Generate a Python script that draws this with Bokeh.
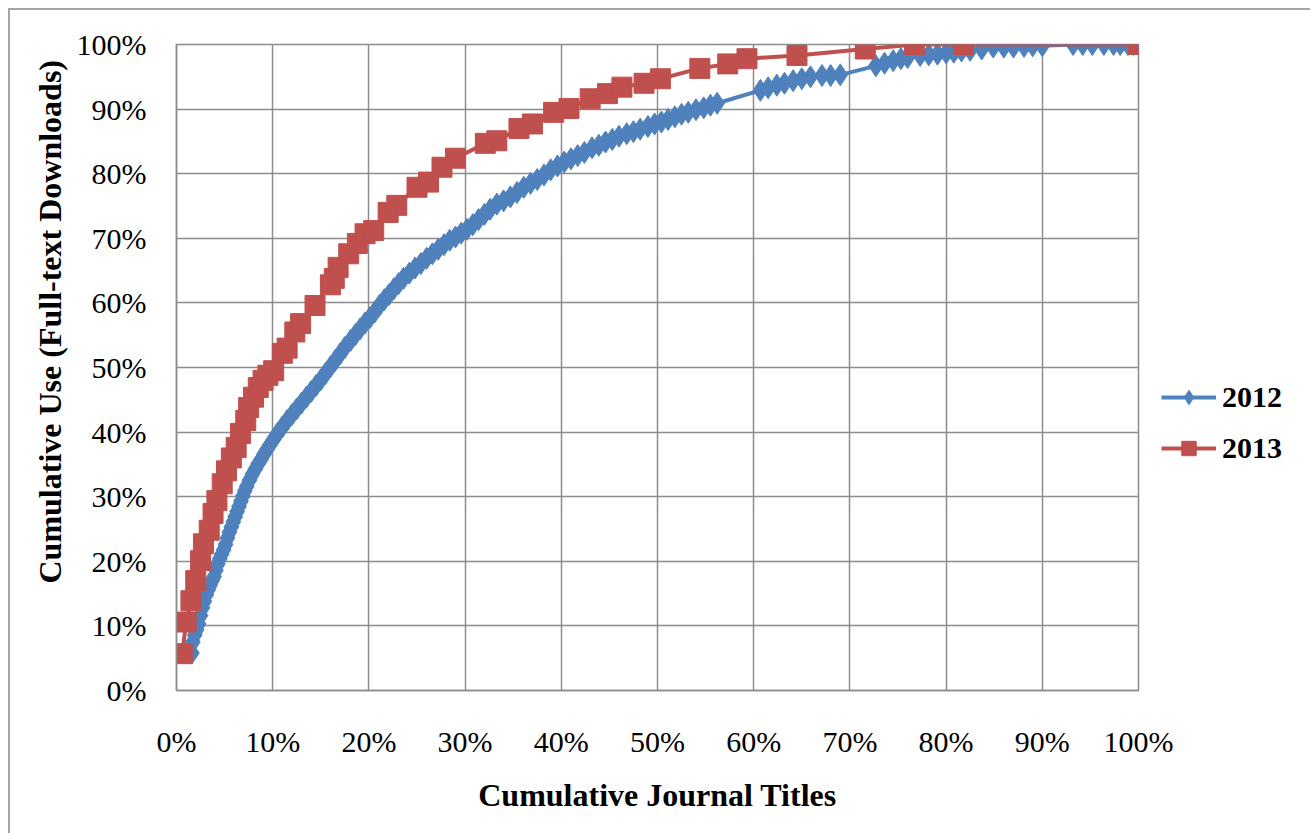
import math
from bokeh.plotting import figure
from bokeh.models import Title, Legend, LegendItem, FixedTicker
from bokeh.embed import file_html
from bokeh.resources import INLINE

# ---------------- data (percent) ----------------
x_2012 = [1.6, 1.7, 1.9, 2.1, 2.3, 2.5, 2.7, 2.9, 3.1, 3.3, 3.5, 3.7, 3.9, 4.1, 4.3, 4.5,
          4.7, 4.9, 5.1, 5.3, 5.5, 5.7, 5.9, 6.1, 6.3, 6.5, 6.7, 6.9, 7.1, 7.3, 7.6, 7.9,
          8.2, 8.5, 8.8, 9.1, 9.4, 9.7, 10.1, 10.5, 11.0, 11.5, 12.0, 12.5, 13.0, 13.5,
          14.0, 14.5, 15.0, 15.5, 16.0, 16.5, 17.0, 17.5, 18.1, 18.6, 19.1, 19.6, 20.1,
          20.6, 21.1, 21.6, 22.1, 22.6, 23.1, 23.6, 24.2, 24.8, 25.4, 26.0, 26.6, 27.2,
          27.8, 28.4, 29.0, 29.6, 30.2, 30.8, 31.4, 32.0, 32.6, 33.3, 34.0, 34.7, 35.4,
          36.1, 36.8, 37.5, 38.2, 38.9, 39.6, 40.3, 41.0, 41.7, 42.4, 43.2, 43.9, 44.6,
          45.3, 46.0, 46.8, 47.5, 48.2, 49.0, 49.7, 50.4, 51.1, 51.8, 52.5, 53.2, 54.0,
          54.8, 55.5, 56.2, 60.7, 61.5, 62.4, 63.2, 64.1, 65.0, 65.9, 67.1, 68.0, 69.0,
          72.7, 73.6, 74.5, 75.3, 76.0, 77.3, 78.2, 79.1, 80.0, 80.8, 81.6, 82.5, 83.7,
          84.9, 86.0, 87.0, 88.1, 89.0, 90.0, 93.2, 94.2, 95.2, 96.4, 97.4, 98.1, 98.9,
          99.5, 100.0]
y_2012 = [5.8, 7.5, 8.6, 9.4, 10.3, 11.6, 12.8, 13.8, 14.8, 15.6, 16.3, 17.0, 17.6, 18.6,
          19.6, 20.4, 21.1, 21.8, 22.6, 23.6, 24.5, 25.3, 26.1, 26.9, 27.7, 28.5, 29.3,
          30.1, 30.9, 31.6, 32.6, 33.5, 34.3, 35.1, 35.8, 36.6, 37.3, 38.0, 38.9, 39.8,
          40.8, 41.8, 42.7, 43.6, 44.5, 45.4, 46.3, 47.2, 48.1, 49.1, 50.1, 51.1, 52.1,
          53.1, 54.2, 55.1, 56.0, 56.9, 57.7, 58.6, 59.6, 60.5, 61.3, 62.2, 63.0, 63.8,
          64.6, 65.4, 66.1, 66.9, 67.6, 68.3, 69.0, 69.7, 70.2, 70.8, 71.4, 72.1, 72.9,
          73.7, 74.5, 75.3, 75.8, 76.4, 77.1, 77.9, 78.5, 79.1, 79.8, 80.6, 81.2, 81.8,
          82.3, 82.8, 83.3, 84.0, 84.4, 84.9, 85.3, 85.8, 86.2, 86.5, 86.9, 87.3, 87.7,
          88.0, 88.4, 88.8, 89.2, 89.5, 89.9, 90.2, 90.6, 90.9, 92.9, 93.3, 93.7, 94.0,
          94.4, 94.7, 95.0, 95.2, 95.2, 95.3, 96.7, 97.1, 97.5, 97.8, 98.0, 98.3, 98.4,
          98.5, 98.7, 98.8, 99.0, 99.1, 99.3, 99.6, 99.6, 99.6, 99.7, 99.8, 99.8, 100.0,
          100.0, 100.0, 100.0, 100.0, 100.0, 100.0, 100.0, 100.0]

x_2013 = [0.6, 1.0, 1.5, 2.0, 2.5, 2.8, 3.4, 3.8, 4.2, 4.75, 5.2, 5.7, 6.2, 6.65, 7.2,
          7.5, 8.0, 8.5, 9.0, 9.5, 10.1, 11.0, 11.5, 12.3, 12.9, 14.4, 16.0, 16.4, 16.8,
          17.9, 18.8, 19.6, 20.5, 22.0, 22.9, 25.0, 26.2, 27.6, 29.0, 32.1, 33.3, 35.6,
          37.0, 39.2, 40.8, 43.0, 44.8, 46.3, 48.6, 50.3, 54.4, 57.3, 59.3, 64.5, 71.6,
          76.7, 81.8, 100.0]
y_2013 = [5.7, 10.6, 13.9, 17.0, 20.1, 22.7, 24.8, 27.4, 29.4, 32.0, 34.0, 36.0, 37.6,
          39.8, 41.8, 43.8, 45.4, 46.9, 48.0, 48.8, 49.5, 52.2, 53.0, 55.5, 56.8, 59.6,
          62.8, 63.8, 65.5, 67.6, 69.2, 70.7, 71.2, 74.0, 75.1, 77.9, 78.7, 81.0, 82.4,
          84.7, 85.1, 87.0, 87.7, 89.5, 90.1, 91.6, 92.4, 93.4, 94.0, 94.7, 96.3, 97.0,
          97.8, 98.3, 99.3, 100.0, 100.0, 100.0]

tick_values = [0, 10, 20, 30, 40, 50, 60, 70, 80, 90, 100]
tick_labels = ["0%", "10%", "20%", "30%", "40%", "50%", "60%", "70%", "80%", "90%", "100%"]
series_names = ["2012", "2013"]

BLUE = "#4F81BD"
RED = "#C0504D"
GRID = "#8c8c8c"
FONT = "Liberation Serif"

p = figure(frame_width=962, frame_height=646, x_range=(0, 100), y_range=(0, 100),
           output_backend="svg", toolbar_location=None,
           min_border_left=166, min_border_top=34, min_border_right=168,
           min_border_bottom=150)
p.styles = {"margin-left": "8px", "margin-top": "8px", "border": "2px solid #a6a6a6"}
p.background_fill_color = "white"
p.border_fill_color = "white"
p.outline_line_color = GRID
p.outline_line_width = 1.5

for ax in (p.xaxis[0], p.yaxis[0]):
    ax.ticker = FixedTicker(ticks=tick_values)
    ax.major_label_overrides = {v: l for v, l in zip(tick_values, tick_labels)}
    ax.major_tick_line_color = None
    ax.minor_tick_line_color = None
    ax.axis_line_color = GRID
    ax.axis_line_width = 1.5
    ax.major_label_text_font = FONT
    ax.major_label_text_font_size = "30px"
    ax.major_label_text_color = "black"

p.xaxis.major_label_standoff = 28
p.yaxis.major_label_standoff = 24
p.xaxis.axis_label = "Cumulative Journal Titles"
p.xaxis.axis_label_text_font = FONT
p.xaxis.axis_label_text_font_style = "bold"
p.xaxis.axis_label_text_font_size = "32px"
p.xaxis.axis_label_text_color = "black"
p.xaxis.axis_label_standoff = 16

p.xgrid.ticker = FixedTicker(ticks=tick_values)
p.ygrid.ticker = FixedTicker(ticks=tick_values)
p.grid.grid_line_color = GRID
p.grid.grid_line_width = 1.5

l1 = p.line(x_2012, y_2012, line_color=BLUE, line_width=4)
s1 = p.scatter(x_2012, y_2012, marker="diamond", size=22, fill_color=BLUE, line_color=BLUE)
l2 = p.line(x_2013, y_2013, line_color=RED, line_width=4)
s2 = p.scatter(x_2013, y_2013, marker="square", size=20, fill_color=RED, line_color=RED)

ytitle = Title(text="Cumulative Use (Full-text Downloads)", align="left", offset=107,
               text_font=FONT, text_font_style="bold", text_font_size="32px",
               text_color="black", standoff=12)
p.add_layout(ytitle, "left")

legend = Legend(items=[LegendItem(label=series_names[0], renderers=[l1, s1]),
                       LegendItem(label=series_names[1], renderers=[l2, s2])],
                location=(23, 224), orientation="vertical",
                glyph_width=55, glyph_height=36, label_height=36, spacing=15,
                label_standoff=6, padding=0, margin=0,
                border_line_color=None, background_fill_alpha=0,
                label_text_font=FONT, label_text_font_style="bold",
                label_text_font_size="30px", label_text_color="black")
p.add_layout(legend, "right")

open("out.html", "w").write(file_html(p, INLINE))
